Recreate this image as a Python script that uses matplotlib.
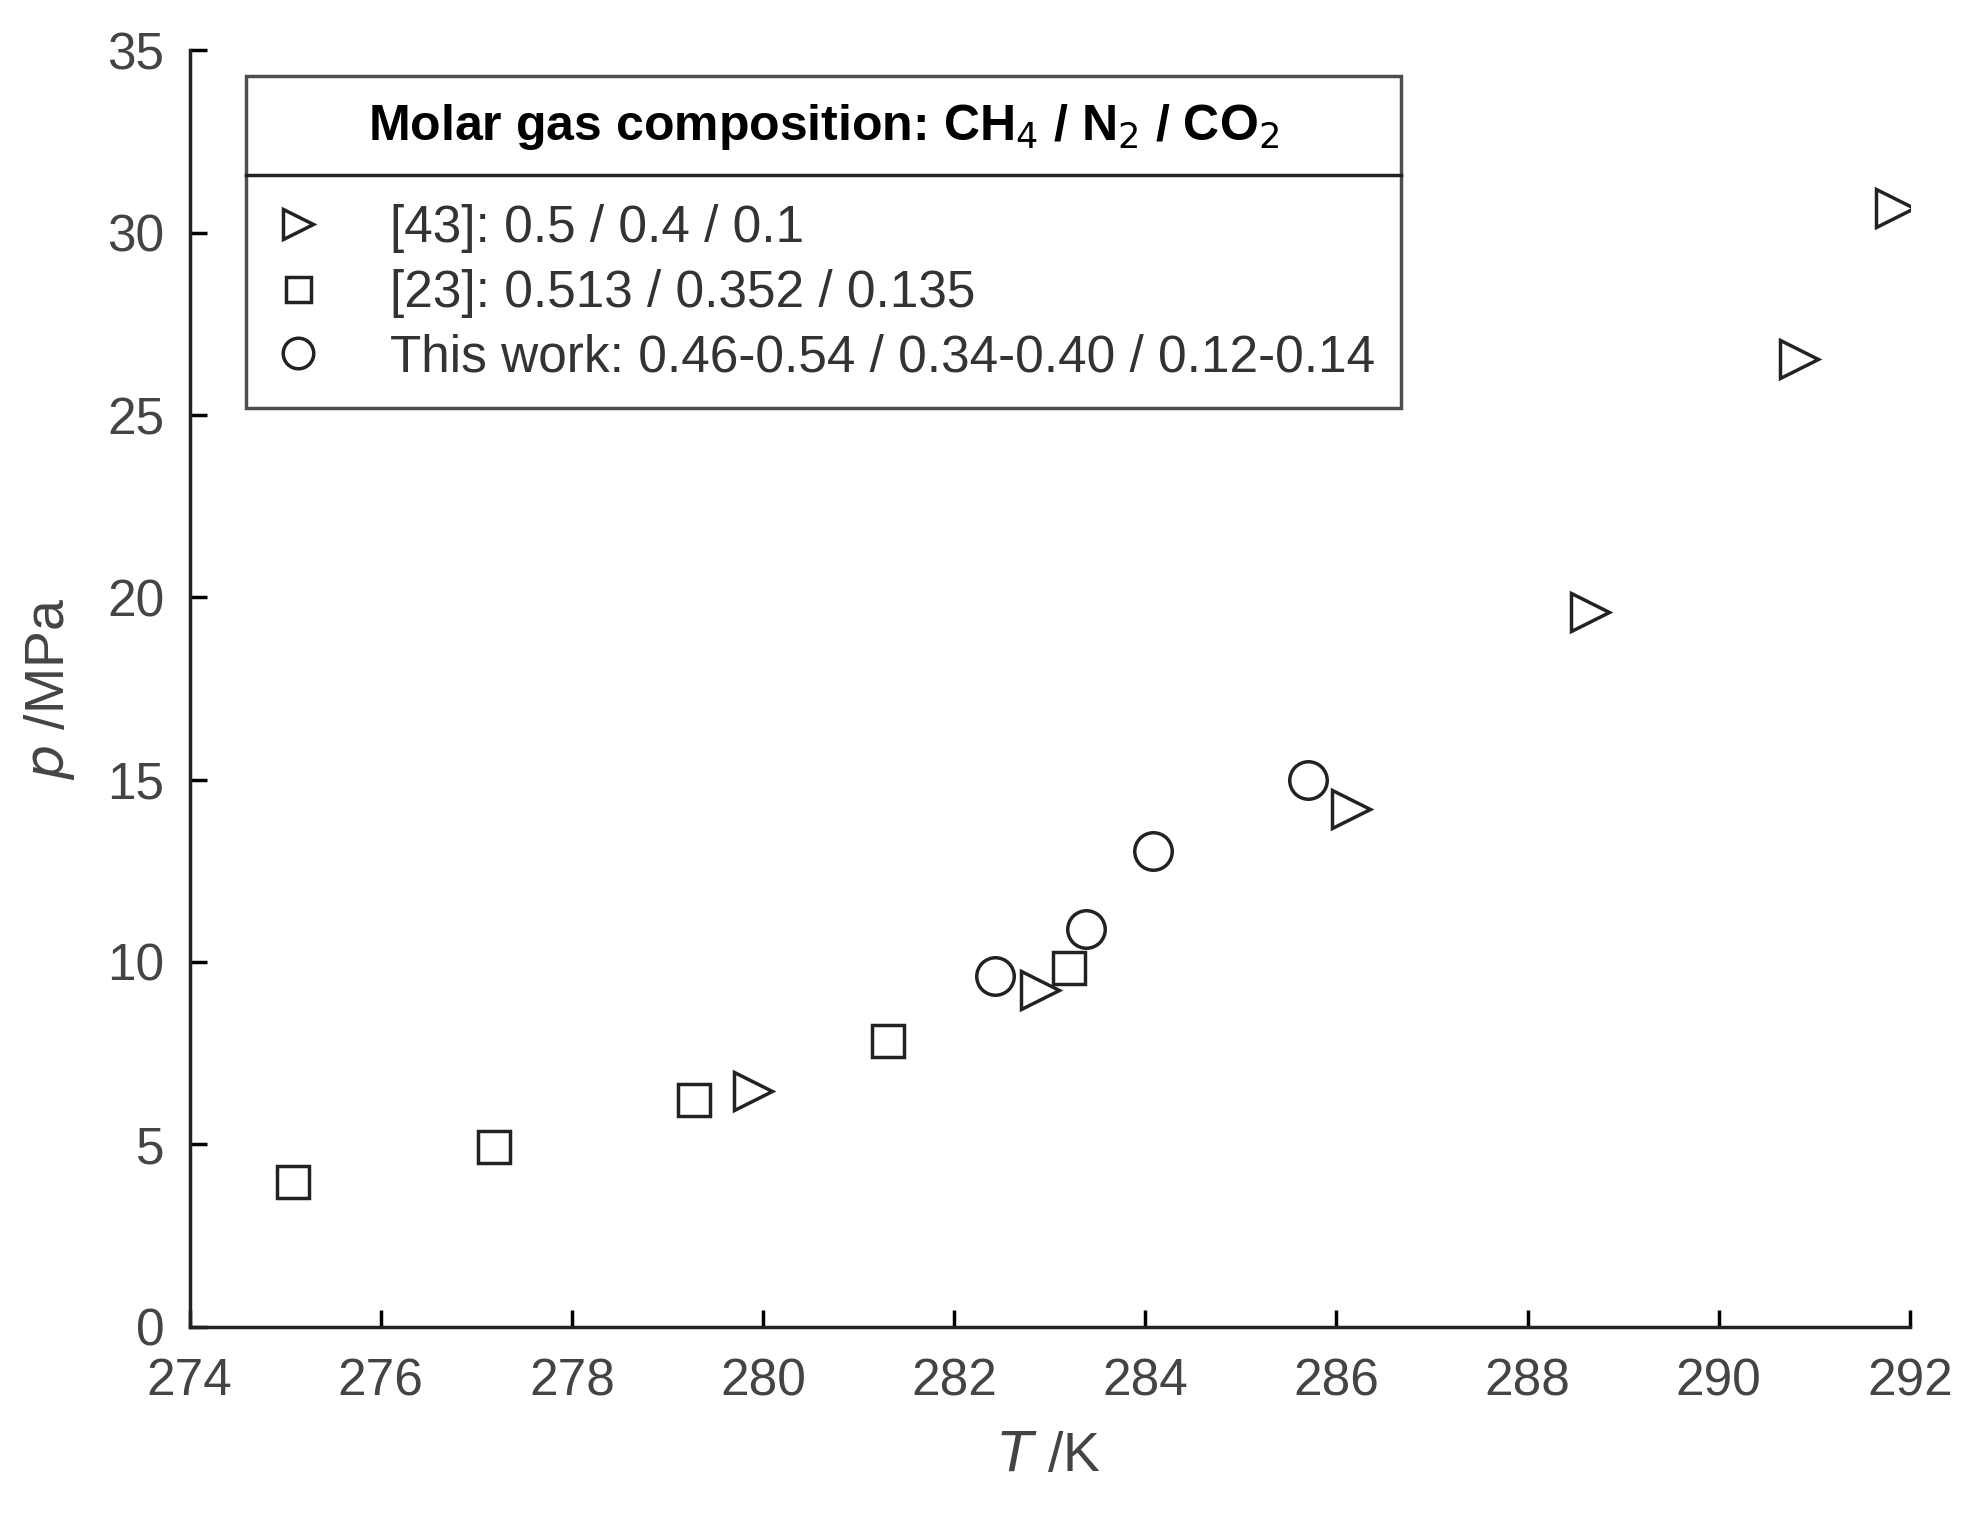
import matplotlib
matplotlib.use("Agg")
import matplotlib.pyplot as plt
from matplotlib.lines import Line2D

tri_T = [279.9, 282.9, 286.15, 288.65, 290.84, 291.85]
tri_p = [6.45, 9.24, 14.2, 19.6, 26.55, 30.69]
sq_T = [275.08, 277.19, 279.28, 281.31, 283.2]
sq_p = [3.97, 4.93, 6.2, 7.83, 9.83]
ci_T = [282.43, 283.38, 284.08, 285.7]
ci_p = [9.62, 10.9, 13.03, 15.0]
labels = ["[43]: 0.5 / 0.4 / 0.1", "[23]: 0.513 / 0.352 / 0.135",
          "This work: 0.46-0.54 / 0.34-0.40 / 0.12-0.14"]

plt.rcParams['font.family'] = ['Liberation Sans', 'DejaVu Sans']
fig = plt.figure(figsize=(19.75, 15.3), dpi=100)
ax = fig.add_axes([0.096, 0.133, 0.871, 0.834])
ms = 27
kw = dict(linestyle='none', markerfacecolor='white', markeredgecolor='#222222', markeredgewidth=2.5)
ax.plot(tri_T, tri_p, marker='>', markersize=ms, label=labels[0], **kw)
ax.plot(sq_T, sq_p, marker='s', markersize=ms*0.85, label=labels[1], **kw)
ax.plot(ci_T, ci_p, marker='o', markersize=ms, label=labels[2], **kw)
ax.set_xlim(274, 292)
ax.set_ylim(0, 35)
ax.set_xticks(range(274, 293, 2))
ax.set_yticks(range(0, 36, 5))
for s in ['top', 'right']:
    ax.spines[s].set_visible(False)
for s in ['left', 'bottom']:
    ax.spines[s].set_linewidth(2.5)
    ax.spines[s].set_color('#222222')
ax.tick_params(direction='in', length=12, width=2.5, labelsize=37, labelcolor='#444444')
ax.tick_params(axis='x', pad=22)
ax.tick_params(axis='y', pad=18)
ax.set_xlabel(r'$\it{T}$ /K', fontsize=40, color='#444444', labelpad=18)
ax.set_ylabel(r'$\it{p}$ /MPa', fontsize=40, color='#444444', labelpad=22)

h = [Line2D([], [], marker='>', markersize=22, **kw),
     Line2D([], [], marker='s', markersize=18, **kw),
     Line2D([], [], marker='o', markersize=22, **kw)]
leg = ax.legend(h, labels, title=r'Molar gas composition: CH$_4$ / N$_2$ / CO$_2$',
                loc='upper left', bbox_to_anchor=(0.033, 0.98), fontsize=37,
                title_fontproperties={'weight': 'bold', 'size': 36},
                frameon=True, fancybox=False, edgecolor='#222222', handlelength=1.0,
                borderpad=0.5, labelspacing=0.3, handletextpad=1.3, borderaxespad=0)
leg.get_frame().set_linewidth(2.5)
leg._legend_box.sep = 38
for t in leg.get_texts():
    t.set_color('#333333')
fig.canvas.draw()
r = fig.canvas.get_renderer()
bb = leg.get_window_extent(r).transformed(ax.transAxes.inverted())
tb = leg.get_title().get_window_extent(r).transformed(ax.transAxes.inverted())
ly = tb.y0 - 0.018
ax.plot([bb.x0, bb.x1], [ly, ly], transform=ax.transAxes, color='#222222', lw=2.5, zorder=10, clip_on=False)
fig.savefig('out.png', dpi=100)
